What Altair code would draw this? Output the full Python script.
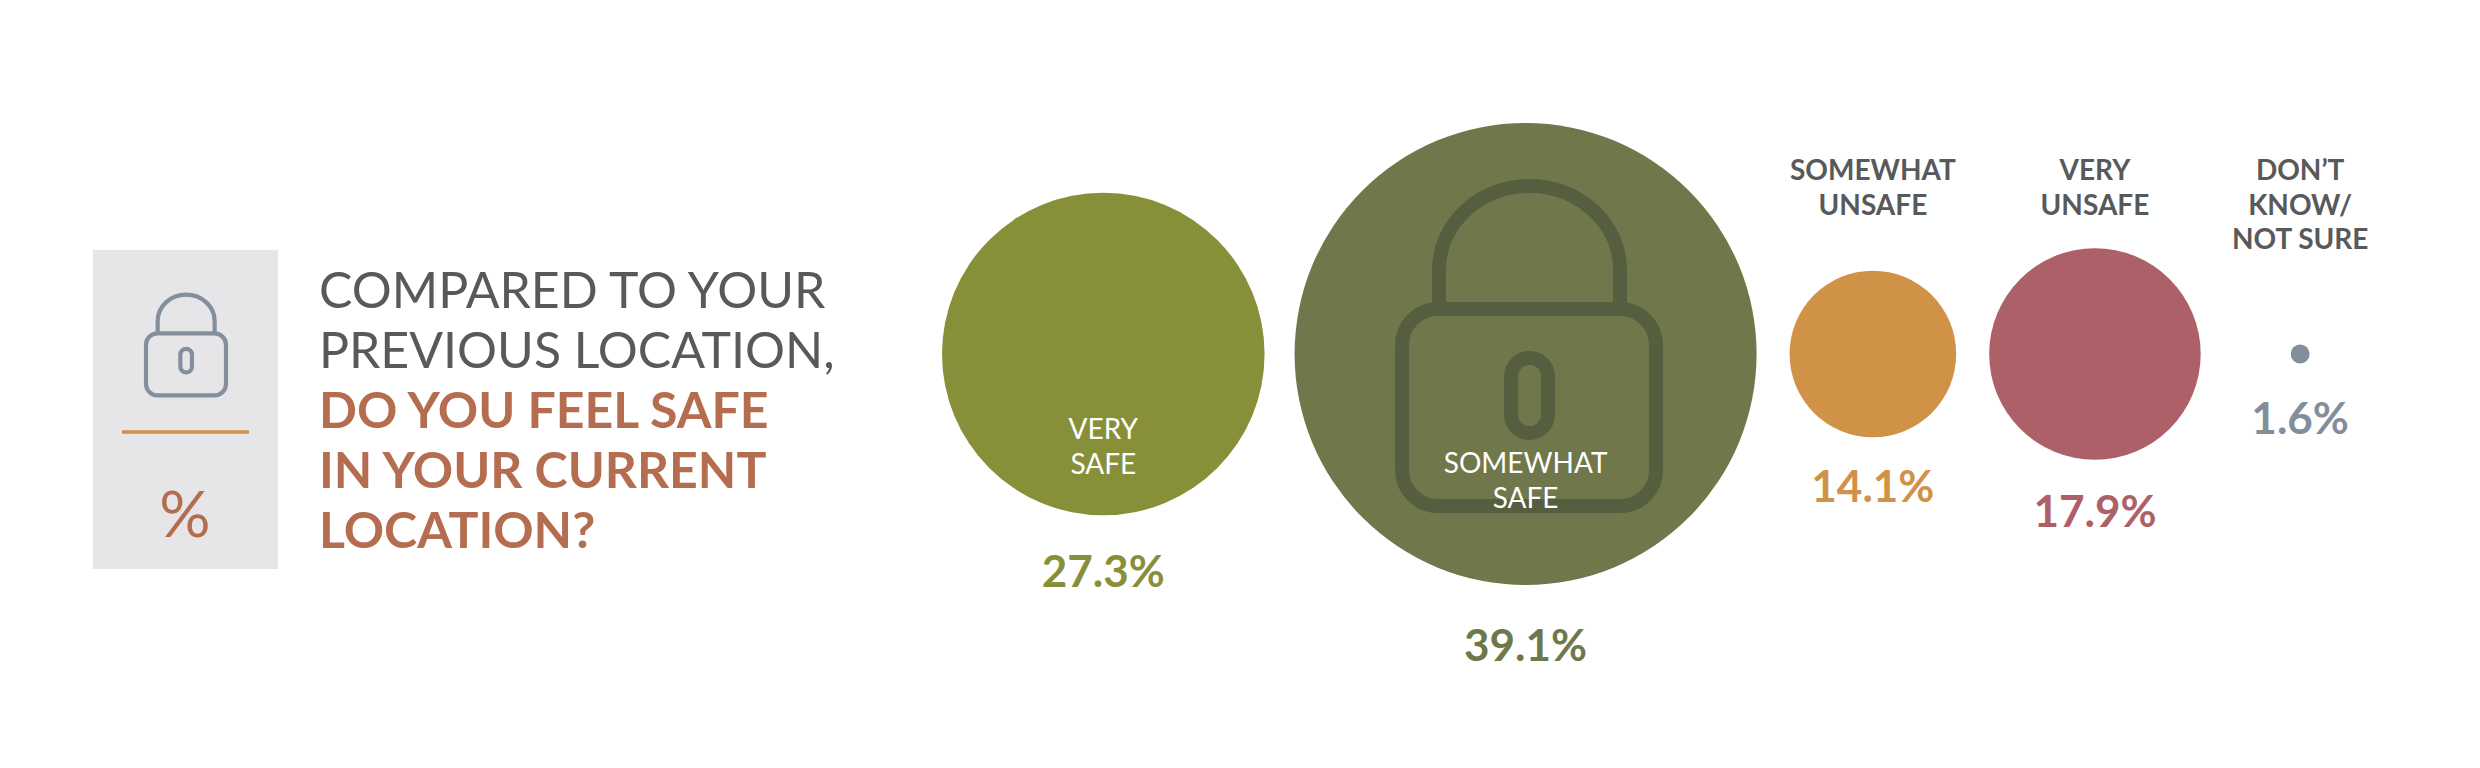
import math
import altair as alt
import pandas as pd

# ---- data ----
categories = ["VERY SAFE", "SOMEWHAT SAFE", "SOMEWHAT UNSAFE", "VERY UNSAFE", "DON'T KNOW/NOT SURE"]
values = [27.3, 39.1, 14.1, 17.9, 1.6]
value_labels = ["27.3%", "39.1%", "14.1%", "17.9%", "1.6%"]
label_lines = [["VERY", "SAFE"], ["SOMEWHAT", "SAFE"], ["SOMEWHAT", "UNSAFE"], ["VERY", "UNSAFE"], ["DON\u2019T", "KNOW/", "NOT SURE"]]
title_plain = ["COMPARED TO YOUR", "PREVIOUS LOCATION,"]
title_bold = ["DO YOU FEEL SAFE", "IN YOUR CURRENT", "LOCATION?"]
unit_label = ["%"]

# ---- styles and layout ----
colors = ["#879038", "#70774A", "#CF9247", "#AE6068", "#838E9C"]
label_colors = ["#FFFFFF", "#FFFFFF", "#58595B", "#58595B", "#58595B"]
W, H = 2480, 768
CY = 354
R_PER_PCT = 5.908
row_left = 942
gaps = [30, 33, 33, 90]
pct_baselines = [587, 661, 502, 527, 434]
label_first_baseline = [439, 473, 180, 180, 180]
LABEL_STEP = 34.5
FONT = "Lato"

radii = [v * R_PER_PCT for v in values]
centers, edge = [], row_left
for i, r in enumerate(radii):
    centers.append(edge + r)
    edge += 2 * r + (gaps[i] if i < len(gaps) else 0)

xs = alt.Scale(domain=[8, W - 8], range=[0, W - 16])
ys = alt.Scale(domain=[8, H - 8], range=[0, H - 16])
X = lambda f="x": alt.X(f"{f}:Q", scale=xs, axis=None)
Y = lambda f="y": alt.Y(f"{f}:Q", scale=ys, axis=None)

circles = pd.DataFrame({"cat": categories, "value": values, "x": centers, "y": [CY] * 5, "color": colors})
circle_layer = alt.Chart(circles).mark_circle(opacity=1).encode(
    x=X(), y=Y(),
    size=alt.Size("value:Q", legend=None,
                  scale=alt.Scale(type="pow", exponent=2, domain=[0, max(values)],
                                  range=[0, (2 * max(values) * R_PER_PCT) ** 2])),
    color=alt.Color("color:N", scale=None),
)

# lock glyph in the [-1, 1] box of a custom symbol
def lock_path():
    S, cx, cy = 135.0, 1529.0, 346.0
    px = lambda x: f"{(x - cx) / S:.4f}"
    py = lambda y: f"{(y - cy) / S:.4f}"
    k = 0.5523
    def rr(l, t, r, b, rad):
        c = rad * (1 - k)
        return (f"M{px(l + rad)} {py(t)}L{px(r - rad)} {py(t)}"
                f"C{px(r - c)} {py(t)} {px(r)} {py(t + c)} {px(r)} {py(t + rad)}"
                f"L{px(r)} {py(b - rad)}"
                f"C{px(r)} {py(b - c)} {px(r - c)} {py(b)} {px(r - rad)} {py(b)}"
                f"L{px(l + rad)} {py(b)}"
                f"C{px(l + c)} {py(b)} {px(l)} {py(b - c)} {px(l)} {py(b - rad)}"
                f"L{px(l)} {py(t + rad)}"
                f"C{px(l)} {py(t + c)} {px(l + c)} {py(t)} {px(l + rad)} {py(t)}Z")
    body = rr(1402, 309, 1656, 506, 36)
    hole = rr(1511, 358, 1548, 433, 18.5)
    l, r, top, spring, mid = 1439, 1620, 186, 270, 1529.5
    hw, hh = (r - l) / 2, spring - top
    shackle = (f"M{px(l)} {py(309)}L{px(l)} {py(spring)}"
               f"C{px(l)} {py(spring - k * hh)} {px(mid - k * hw)} {py(top)} {px(mid)} {py(top)}"
               f"C{px(mid + k * hw)} {py(top)} {px(r)} {py(spring - k * hh)} {px(r)} {py(spring)}"
               f"L{px(r)} {py(309)}")
    return body + hole + shackle

LOCK = lock_path()
def lock_layer(x, y, scale, stroke, sw):
    d = pd.DataFrame({"x": [x], "y": [y]})
    return alt.Chart(d).mark_point(shape=LOCK, filled=False, size=(2 * scale) ** 2,
                                   stroke=stroke, strokeWidth=sw, opacity=1,
                                   strokeJoin="round").encode(x=X(), y=Y())

big_lock = lock_layer(1529, 346, 135, "#565E40", 14)
small_lock = lock_layer(186, 345, 42.5, "#848E9C", 4.2)

panel = alt.Chart(pd.DataFrame({"x": [93], "x2": [278], "y": [250], "y2": [569]})).mark_rect(color="#E6E6E8").encode(
    x=X(), x2="x2:Q", y=Y(), y2="y2:Q")
divider = alt.Chart(pd.DataFrame({"x": [122], "x2": [249], "y": [432]})).mark_rule(color="#CF9247", strokeWidth=3.5).encode(
    x=X(), x2="x2:Q", y=Y())

def text_layer(rows, **kw):
    return alt.Chart(pd.DataFrame(rows)).mark_text(font=FONT, baseline="alphabetic", **kw).encode(
        x=X(), y=Y(), text="t:N", color=alt.Color("c:N", scale=None))

pct_rows = [{"x": centers[i], "y": pct_baselines[i], "t": value_labels[i], "c": colors[i]} for i in range(5)]
pct_layer = text_layer(pct_rows, fontSize=44, fontWeight=700, align="center")

def lab_rows(idx):
    return [{"x": centers[i], "y": label_first_baseline[i] + j * LABEL_STEP, "t": ln, "c": label_colors[i]}
            for i in idx for j, ln in enumerate(label_lines[i])]
lab_white = text_layer(lab_rows([0, 1]), fontSize=28, fontWeight=400, align="center")
lab_dark = text_layer(lab_rows([2, 3, 4]), fontSize=28, fontWeight=700, align="center")

plain_rows = [{"x": 319, "y": 308 + 60 * i, "t": t, "c": "#58595B"} for i, t in enumerate(title_plain)]
bold_rows = [{"x": 319, "y": 428 + 60 * i, "t": t, "c": "#B56D50"} for i, t in enumerate(title_bold)]
title_a = text_layer(plain_rows, fontSize=50, fontWeight=400, align="left")
title_b = text_layer(bold_rows, fontSize=50, fontWeight=700, align="left")
unit = text_layer([{"x": 185, "y": 537, "t": unit_label[0], "c": "#B56D50"}], fontSize=64, fontWeight=400, align="center")

chart = alt.layer(panel, divider, small_lock, unit, title_a, title_b, circle_layer, big_lock, pct_layer, lab_white, lab_dark).properties(
    width=W - 16, height=H - 16, padding=0, background="#FFFFFF",
    autosize=alt.AutoSizeParams(type="none"),
).configure_view(stroke=None)

chart.save("out.html", embed_options={"renderer": "svg", "actions": False})
